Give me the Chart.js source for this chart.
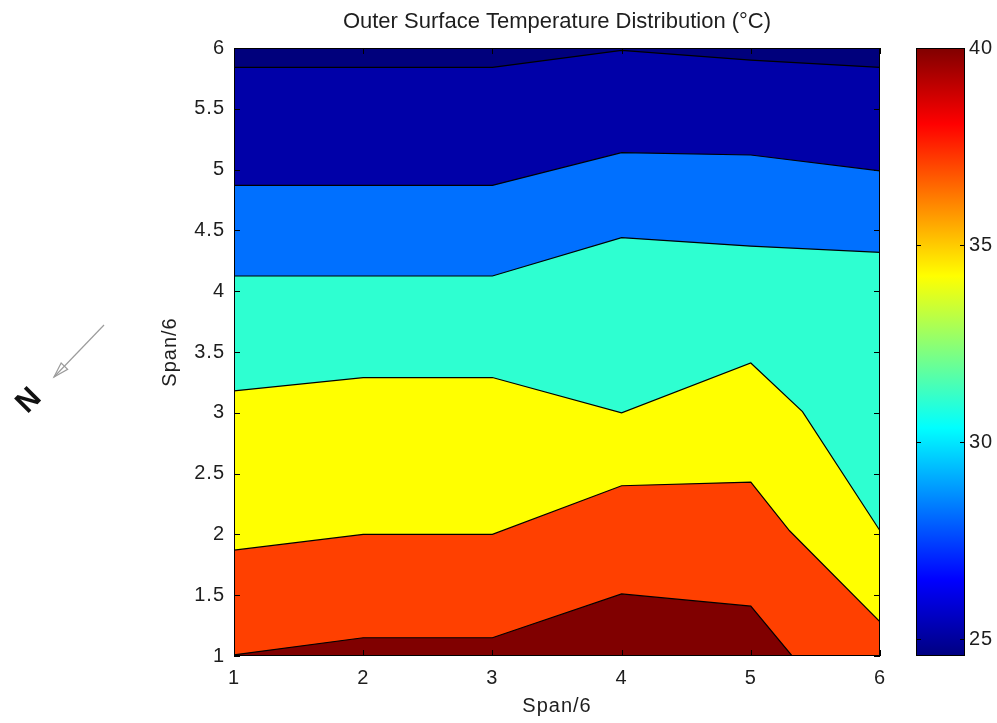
<!DOCTYPE html>
<html>
<head>
<meta charset="utf-8">
<title>Outer Surface Temperature Distribution</title>
<script src="https://cdn.jsdelivr.net/npm/chart.js@4.4.1/dist/chart.umd.min.js"></script>
<style>
  html, body { margin: 0; padding: 0; background: #fff; }
  #wrap { position: relative; width: 997px; height: 723px; overflow: hidden; }
  #main { position: absolute; left: 0; top: 0; }
  #cbar { position: absolute; left: 900px; top: 0; }
</style>
</head>
<body>
<div id="wrap">
  <canvas id="main" width="997" height="723"></canvas>
  <canvas id="cbar" width="97" height="723"></canvas>
</div>
<script>
// ---- Axis ticks ----
const spanTicksX = [1, 2, 3, 4, 5, 6];
const spanTicksY = [1, 1.5, 2, 2.5, 3, 3.5, 4, 4.5, 5, 5.5, 6];
const tempTicks = [25, 30, 35, 40];
const tempRange = [24.57, 40];

// ---- Isotherms (°C): span position along x, span height along y ----
const tempLevels = [25, 28, 31, 34, 37, 40];

const iso25X = [1, 2, 3, 4, 5, 6];
const iso25Y = [5.84, 5.84, 5.84, 5.98, 5.9, 5.84];

const iso28X = [1, 2, 3, 4, 5, 6];
const iso28Y = [4.87, 4.87, 4.87, 5.14, 5.12, 4.99];

const iso31X = [1, 2, 3, 4, 5, 6];
const iso31Y = [4.125, 4.125, 4.125, 4.44, 4.37, 4.32];

const iso34X = [1, 2, 3, 4, 5, 5.4, 6];
const iso34Y = [3.18, 3.29, 3.29, 3.0, 3.41, 3.01, 2.03];

const iso37X = [1, 2, 3, 4, 5, 5.3, 6];
const iso37Y = [1.87, 2.0, 2.0, 2.4, 2.43, 2.03, 1.28];

const iso40X = [1, 2, 3, 4, 5, 5.32, 6];
const iso40Y = [1.01, 1.15, 1.15, 1.51, 1.41, 1.0, 1.0];

// upper edge of the plate
const edgeX = [1, 6];
const edgeY = [6, 6];

// Fill colour of the band lying below each boundary (jet colormap)
const bandColors = {
  t40: '#800000',
  t37: '#FF4000',
  t34: '#FFFF00',
  t31: '#2EFFD1',
  t28: '#0070FF',
  t25: '#0000A8',
  tMin: '#00007C'
};

// jet colormap stops for the colour bar
const jetStops = [
  [0.0, '#000080'],
  [0.125, '#0000FF'],
  [0.375, '#00FFFF'],
  [0.625, '#FFFF00'],
  [0.875, '#FF0000'],
  [1.0, '#800000']
];

const FONT = '"Liberation Sans", Arial, Helvetica, sans-serif';
const TEXT = '#1e1e1e';

function pts(xs, ys) {
  return xs.map((x, i) => ({ x: x, y: ys[i] }));
}

function band(label, xs, ys, color, stroke) {
  return {
    label: label,
    data: pts(xs, ys),
    fill: 'start',
    backgroundColor: color,
    borderColor: '#000000',
    borderWidth: stroke ? 1.2 : 0,
    pointRadius: 0,
    tension: 0
  };
}

// Box frame with MATLAB-style inward tick marks on all four sides
const frameTicks = {
  id: 'frameTicks',
  afterDatasetsDraw(chart, args, opts) {
    const { ctx, chartArea: a } = chart;
    const L = opts.length || 6;
    ctx.save();
    ctx.strokeStyle = '#000';
    ctx.lineWidth = 1;
    ctx.beginPath();
    (opts.axes || []).forEach(id => {
      const s = chart.scales[id];
      if (!s) return;
      s.ticks.forEach(t => {
        const p = Math.round(s.getPixelForValue(t.value)) + 0.5;
        if (s.isHorizontal()) {
          ctx.moveTo(p, a.bottom); ctx.lineTo(p, a.bottom - L);
          ctx.moveTo(p, a.top); ctx.lineTo(p, a.top + L);
        } else {
          ctx.moveTo(a.left, p); ctx.lineTo(a.left + L, p);
          ctx.moveTo(a.right, p); ctx.lineTo(a.right - L, p);
        }
      });
    });
    ctx.stroke();
    ctx.strokeRect(Math.round(a.left) + 0.5, Math.round(a.top) + 0.5,
                   Math.round(a.width) - 1, Math.round(a.height) - 1);
    ctx.restore();
  }
};

// Slightly open letter spacing for axis text
const textSpacing = {
  id: 'textSpacing',
  beforeDraw(chart, args, opts) { chart.ctx.letterSpacing = opts.spacing || '0px'; },
  afterDraw(chart) { chart.ctx.letterSpacing = '0px'; }
};

// Heading centred over the plot area, plus the north marker
const decorations = {
  id: 'decorations',
  afterDraw(chart, args, opts) {
    const { ctx, chartArea: a } = chart;
    ctx.save();
    ctx.letterSpacing = '0px';
    ctx.fillStyle = TEXT;
    ctx.font = '22px ' + FONT;
    ctx.textAlign = 'center';
    ctx.textBaseline = 'middle';
    ctx.fillText(opts.title, (a.left + a.right) / 2, 22);

    // north arrow
    const x0 = 104, y0 = 325, x1 = 54, y1 = 377;
    ctx.strokeStyle = '#9c9c9c';
    ctx.lineWidth = 1.2;
    ctx.beginPath();
    ctx.moveTo(x0, y0);
    ctx.lineTo(x1, y1);
    ctx.stroke();
    const ang = Math.atan2(y1 - y0, x1 - x0);
    const hl = 15, hw = 4.5;
    const bx = x1 - hl * Math.cos(ang), by = y1 - hl * Math.sin(ang);
    const nx = -Math.sin(ang), ny = Math.cos(ang);
    ctx.beginPath();
    ctx.moveTo(x1, y1);
    ctx.lineTo(bx + nx * hw, by + ny * hw);
    ctx.lineTo(bx - nx * hw, by - ny * hw);
    ctx.closePath();
    ctx.stroke();

    ctx.translate(29, 401);
    ctx.rotate(-Math.PI / 4);
    ctx.fillStyle = '#111';
    ctx.font = 'bold 30px ' + FONT;
    ctx.fillText('N', 0, 0);
    ctx.restore();
  }
};

new Chart(document.getElementById('main'), {
  type: 'line',
  data: {
    datasets: [
      band('40 °C', iso40X, iso40Y, bandColors.t40, true),
      band('37 °C', iso37X, iso37Y, bandColors.t37, true),
      band('34 °C', iso34X, iso34Y, bandColors.t34, true),
      band('31 °C', iso31X, iso31Y, bandColors.t31, true),
      band('28 °C', iso28X, iso28Y, bandColors.t28, true),
      band('25 °C', iso25X, iso25Y, bandColors.t25, true),
      band('edge', edgeX, edgeY, bandColors.tMin, false)
    ]
  },
  options: {
    responsive: false,
    animation: false,
    devicePixelRatio: 1,
    events: [],
    layout: { padding: { left: 155, right: 117, top: 48, bottom: 0 } },
    plugins: {
      legend: { display: false },
      tooltip: { enabled: false },
      title: { display: false },
      filler: { propagate: false },
      frameTicks: { axes: ['x', 'y'], length: 6 },
      textSpacing: { spacing: '1px' },
      decorations: { title: 'Outer Surface Temperature Distribution (°C)' }
    },
    scales: {
      x: {
        type: 'linear',
        min: 1,
        max: 6,
        afterBuildTicks: s => { s.ticks = spanTicksX.map(v => ({ value: v })); },
        afterFit: s => { s.height = 67; },
        grid: { display: false, drawTicks: false },
        border: { display: false },
        ticks: {
          padding: 10,
          color: TEXT,
          font: { family: FONT, size: 20 },
          maxRotation: 0,
          callback: v => String(v)
        },
        title: {
          display: true,
          text: 'Span/6',
          color: TEXT,
          font: { family: FONT, size: 20 },
          padding: { top: 2, bottom: 5 }
        }
      },
      y: {
        type: 'linear',
        min: 1,
        max: 6,
        afterBuildTicks: s => { s.ticks = spanTicksY.map(v => ({ value: v })); },
        afterFit: s => { s.width = 234 - 155; },
        grid: { display: false, drawTicks: false },
        border: { display: false },
        ticks: {
          padding: 9,
          color: TEXT,
          font: { family: FONT, size: 20 },
          callback: v => String(v)
        },
        title: {
          display: true,
          text: 'Span/6',
          color: TEXT,
          font: { family: FONT, size: 20 },
          padding: { top: 3, bottom: 2 }
        }
      }
    }
  },
  plugins: [frameTicks, textSpacing, decorations]
});

// ---- Colour bar ----
function jetGradient(context) {
  const chart = context.chart;
  const a = chart.chartArea;
  if (!a) return jetStops[0][1];
  const g = chart.ctx.createLinearGradient(0, a.bottom, 0, a.top);
  jetStops.forEach(s => g.addColorStop(s[0], s[1]));
  return g;
}

new Chart(document.getElementById('cbar'), {
  type: 'bar',
  data: {
    labels: ['T'],
    datasets: [{
      data: [tempRange],
      backgroundColor: jetGradient,
      borderWidth: 0,
      barPercentage: 1,
      categoryPercentage: 1
    }]
  },
  options: {
    responsive: false,
    animation: false,
    devicePixelRatio: 1,
    events: [],
    layout: { padding: { left: 16, right: 0, top: 48, bottom: 67 } },
    plugins: {
      legend: { display: false },
      tooltip: { enabled: false },
      frameTicks: { axes: ['y'], length: 5 },
      textSpacing: { spacing: '1px' }
    },
    scales: {
      x: { display: false, offset: true },
      y: {
        position: 'right',
        min: tempRange[0],
        max: tempRange[1],
        afterBuildTicks: s => { s.ticks = tempTicks.map(v => ({ value: v })); },
        afterFit: s => { s.width = 32; },
        grid: { display: false, drawTicks: false },
        border: { display: false },
        ticks: {
          padding: 4,
          color: TEXT,
          font: { family: FONT, size: 20 },
          callback: v => String(v)
        }
      }
    }
  },
  plugins: [frameTicks, textSpacing]
});
</script>
</body>
</html>
